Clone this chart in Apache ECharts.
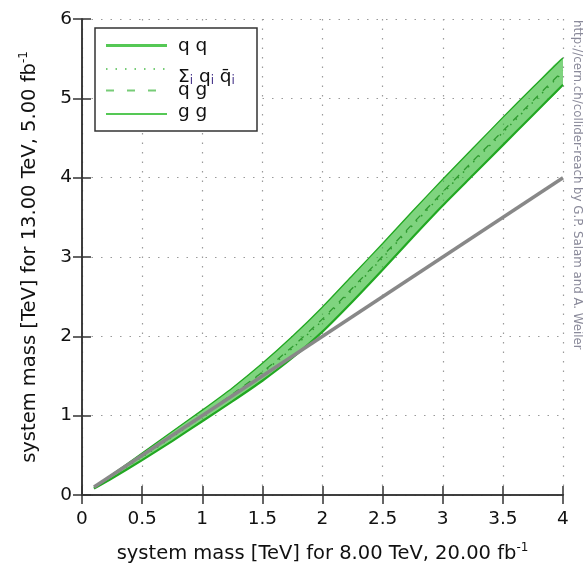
<!DOCTYPE html>
<html><head><meta charset="utf-8">
<script src="https://cdn.jsdelivr.net/npm/echarts@6/dist/echarts.min.js"></script>
<style>html,body{margin:0;padding:0;background:#fff}#c{width:583px;height:569px}</style>
</head><body><div id="c"></div>
<script>
const xs    = [0.1,0.25,0.5,0.75,1,1.25,1.5,1.75,2,2.25,2.5,2.75,3,3.25,3.5,3.75,4];
const qq    = [0.08,0.21,0.44,0.68,0.93,1.18,1.44,1.73,2.06,2.44,2.84,3.25,3.65,4.03,4.41,4.79,5.17];
const gg    = [0.10,0.26,0.53,0.80,1.07,1.35,1.66,2.00,2.37,2.77,3.17,3.58,3.98,4.37,4.76,5.14,5.51];
const qg    = [0.09,0.24,0.49,0.74,1.00,1.27,1.55,1.87,2.22,2.61,3.01,3.42,3.82,4.21,4.59,4.97,5.35];
const qqbar = [0.09,0.24,0.48,0.73,0.99,1.26,1.54,1.85,2.20,2.59,2.99,3.40,3.80,4.19,4.57,4.95,5.33];
const diagX = [0.1,4];
const diagY = [0.1,4];
const xTicks = [0,0.5,1,1.5,2,2.5,3,3.5,4];
const yTicks = [0,1,2,3,4,5,6];

const FONT = 'DejaVu Sans';
const GREEN = '#22a822';
const pairs = (a,b)=>a.map((v,i)=>[v,b[i]]);

const chart = echarts.init(document.getElementById('c'), null, {renderer:'canvas'});
const frameLine = {show:true, lineStyle:{color:'#333', width:1.5}};
const tick = {show:true, inside:true, length:9, lineStyle:{color:'#333', width:1.5}};
const supRich = {sup:{fontSize:12, verticalAlign:'bottom', padding:[0,0,11,0], fontFamily:FONT, color:'#111'}};
chart.setOption({
  animation:false,
  backgroundColor:'#fff',
  grid:{left:82, right:20, top:19, bottom:74},
  xAxis:[
    {type:'value', min:0, max:4, interval:0.5, position:'bottom',
     axisLine:frameLine, axisTick:tick,
     axisLabel:{color:'#111', fontFamily:FONT, fontSize:18.5, margin:15,
       formatter:v=>xTicks.includes(v)?String(v):''},
     splitLine:{show:true, lineStyle:{color:'#9a9a9a', type:[1.5,8], width:1.2}},
     name:'system mass [TeV] for 8.00 TeV, 20.00 fb{sup|-1}', nameLocation:'middle', nameGap:47,
     nameTextStyle:{color:'#111', fontFamily:FONT, fontSize:19.5, rich:supRich}},
    {type:'value', min:0, max:4, interval:0.5, position:'top',
     axisLine:frameLine, axisTick:tick, axisLabel:{show:false}, splitLine:{show:false}}
  ],
  yAxis:[
    {type:'value', min:0, max:6, interval:1, position:'left',
     axisLine:frameLine, axisTick:tick,
     axisLabel:{color:'#111', fontFamily:FONT, fontSize:18.5, margin:10,
       formatter:v=>yTicks.includes(v)?String(v):''},
     splitLine:{show:true, lineStyle:{color:'#9a9a9a', type:[1.5,8], width:1.2}},
     name:'system mass [TeV] for 13.00 TeV, 5.00 fb{sup|-1}', nameLocation:'middle', nameGap:41,
     nameTextStyle:{color:'#111', fontFamily:FONT, fontSize:19.5, rich:supRich}},
    {type:'value', min:0, max:6, interval:1, position:'right',
     axisLine:frameLine, axisTick:tick, axisLabel:{show:false}, splitLine:{show:false}}
  ],
  series:[
    {type:'custom', name:'band', data:[[0,0]], clip:true, z:1,
     renderItem:(params, api)=>{
       const pts = xs.map((x,i)=>api.coord([x, gg[i]]));
       for (let i=xs.length-1;i>=0;i--) pts.push(api.coord([xs[i], qq[i]]));
       return {type:'polygon', shape:{points:pts, smooth:0.2}, style:{fill:'rgba(60,190,60,0.66)', stroke:'none'}};
     }},
    {type:'line', name:'q q', data:pairs(xs,qq), symbol:'none', smooth:0.2, z:3,
     lineStyle:{color:GREEN, width:2.2}},
    {type:'line', name:'Σ qi q̄i', data:pairs(xs,qqbar), symbol:'none', smooth:0.2, z:3,
     lineStyle:{color:'#2f9a2f', width:1.5, type:[1.5,6]}},
    {type:'line', name:'q g', data:pairs(xs,qg), symbol:'none', smooth:0.2, z:3,
     lineStyle:{color:'#2f9a2f', width:1.3, type:[7,7]}},
    {type:'line', name:'g g', data:pairs(xs,gg), symbol:'none', smooth:0.2, z:3,
     lineStyle:{color:GREEN, width:1.3}},
    {type:'line', name:'diag', data:pairs(diagX,diagY), symbol:'none', z:4,
     lineStyle:{color:'#888', width:3.5}}
  ],
  graphic:[
    {type:'rect', shape:{x:95, y:28, width:162, height:103}, style:{fill:'#fff', stroke:'#333', lineWidth:1.5}, z:10},
    {type:'line', shape:{x1:106,y1:45.5,x2:167,y2:45.5}, style:{stroke:'#55c855', lineWidth:3}, z:11},
    {type:'line', shape:{x1:106,y1:69,x2:167,y2:69}, style:{stroke:'#77cc77', lineWidth:2, lineDash:[1.5,8]}, z:11},
    {type:'line', shape:{x1:106,y1:90.5,x2:167,y2:90.5}, style:{stroke:'#77cc77', lineWidth:2, lineDash:[8,13]}, z:11},
    {type:'line', shape:{x1:106,y1:114,x2:167,y2:114}, style:{stroke:'#55c855', lineWidth:2}, z:11},
    {type:'text', x:178, y:46, z:12, style:{text:'q q', fontFamily:FONT, fontSize:18.5, fill:'#111', verticalAlign:'middle'}},
    {type:'text', x:178, y:77, z:12, style:{text:'Σ{s|i} q{s|i} q̄{s|i}', fontFamily:FONT, fontSize:18.5, fill:'#111', verticalAlign:'middle',
      rich:{s:{fontSize:12, fontFamily:FONT, fill:'#443388', padding:[8,0,0,0]}}}},
    {type:'text', x:178, y:90, z:12, style:{text:'q g', fontFamily:FONT, fontSize:18.5, fill:'#111', verticalAlign:'middle'}},
    {type:'text', x:178, y:112, z:12, style:{text:'g g', fontFamily:FONT, fontSize:18.5, fill:'#111', verticalAlign:'middle'}},
    {type:'text', x:577, y:20, rotation:-Math.PI/2, z:12,
     style:{text:'http://cern.ch/collider-reach by G.P. Salam and A. Weiler', fontFamily:FONT, fontSize:11.8, fill:'#8a8a9a', align:'left', verticalAlign:'middle'}}
  ]
});
</script></body></html>
